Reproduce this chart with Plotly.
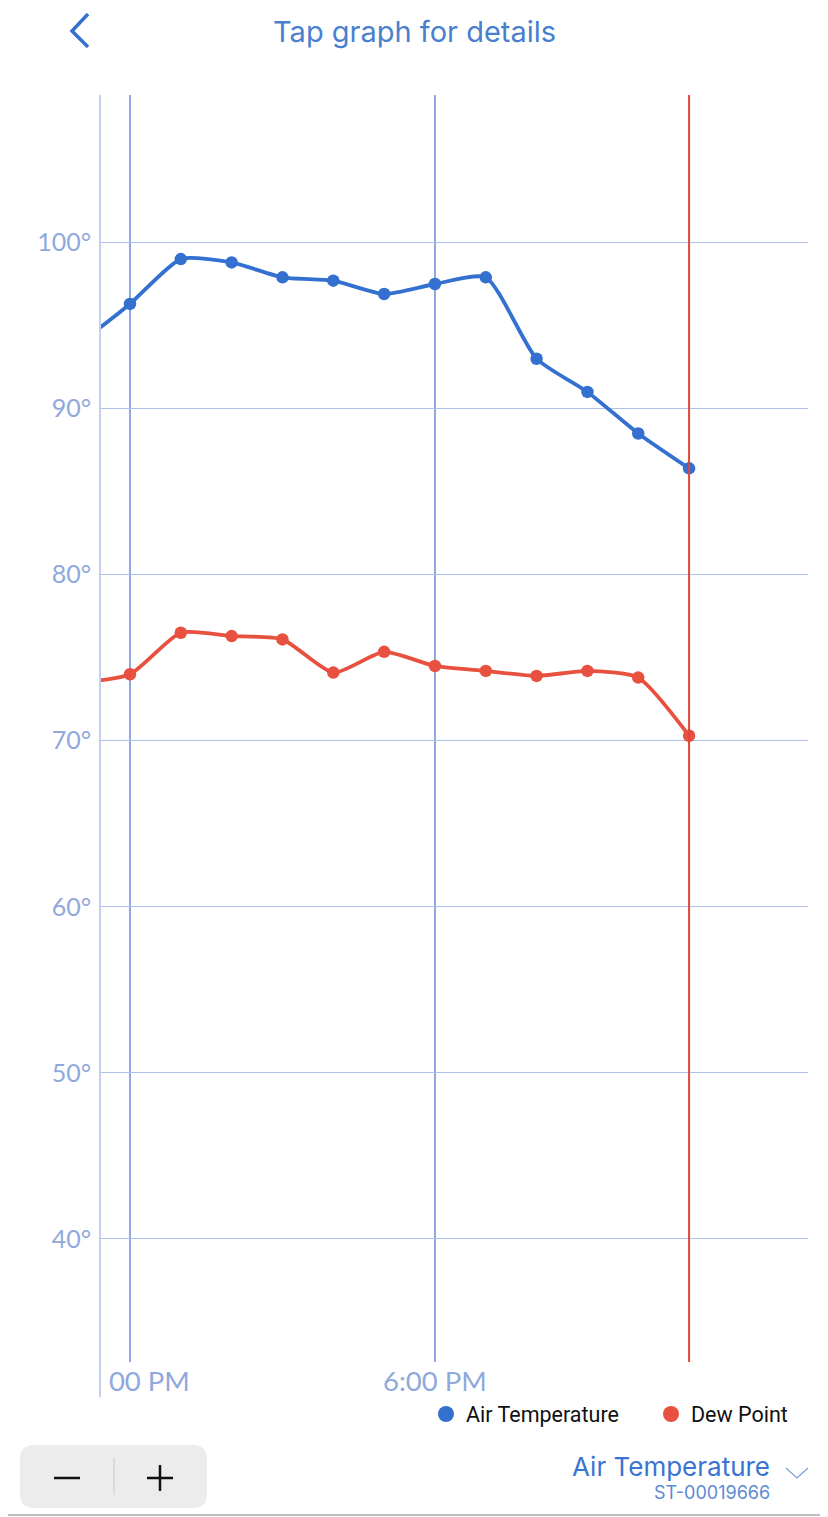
import plotly.graph_objects as go

# ---- data (hours of day, 24h clock) ----
hours = [11, 12, 13, 14, 15, 16, 17, 18, 19, 20, 21, 22, 23]
air_temp = [93.9, 96.3, 99.0, 98.8, 97.9, 97.7, 96.9, 97.5, 97.9, 93.0, 91.0, 88.5, 86.4]
dew_point = [73.5, 74.0, 76.5, 76.3, 76.1, 74.1, 75.35, 74.5, 74.2, 73.9, 74.2, 73.8, 70.3]
x_tick_vals = [12, 18]
x_tick_text = ["12:00 PM", "6:00 PM"]
now_hour = hours[-1]
x_range = [11.41, 25.34]
y_range = [32.59, 108.88]

BLUE = "#3470d0"
RED = "#e8503f"
GRID = "#aec2ec"
VGRID = "#8eaae2"
LABEL = "#8fa9dd"
LATO = "Lato, 'Open Sans', sans-serif"
INTER = "Inter, 'Open Sans', sans-serif"

# page body has an 8px margin; figure is placed at (8, 8) on screen
OFF = 8
W, H = 820, 1509
ML, MR, MT, MB = 92, 20, 87, 155
PW, PH = W - ML - MR, H - MT - MB


def px(x):  # screen x -> paper
    return (x - OFF - ML) / PW


def py(y):  # screen y -> paper
    return (H - MB - (y - OFF)) / PH


fig = go.Figure()
fig.add_trace(go.Scatter(
    x=hours, y=air_temp, mode="lines+markers", name="Air Temperature",
    line=dict(color=BLUE, width=3.8, shape="spline", smoothing=0.6),
    marker=dict(color=BLUE, size=12.5), showlegend=False))
fig.add_trace(go.Scatter(
    x=hours, y=dew_point, mode="lines+markers", name="Dew Point",
    line=dict(color=RED, width=3.8, shape="spline", smoothing=0.6),
    marker=dict(color=RED, size=12.5), showlegend=False))
# legend entries (dots only)
fig.add_trace(go.Scatter(x=[None], y=[None], mode="markers", name="Air Temperature",
                         marker=dict(color=BLUE, size=16)))
fig.add_trace(go.Scatter(x=[None], y=[None], mode="markers", name="Dew Point",
                         marker=dict(color=RED, size=16)))

shapes = []
# current time marker
shapes.append(dict(type="line", xref="x", yref="paper", x0=now_hour, x1=now_hour,
                   y0=0, y1=1, line=dict(color="#e0473a", width=2), layer="above"))
# mask for clipped first time label
shapes.append(dict(type="rect", xref="paper", yref="paper", x0=px(0), x1=px(108.5),
                   y0=py(1410), y1=py(1363), fillcolor="white", line=dict(width=0), layer="above"))
# left axis line
shapes.append(dict(type="line", xref="paper", yref="paper", x0=0, x1=0, y0=py(1397), y1=1,
                   line=dict(color="#c3d0ee", width=2), layer="above"))
# back chevron
shapes.append(dict(type="path", xref="paper", yref="paper",
                   path=f"M {px(88)} {py(14)} L {px(72)} {py(31)} L {px(88)} {py(47)}",
                   line=dict(color=BLUE, width=3.5)))
# zoom control box
x0b, x1b, y0b, y1b, r = 20, 207, 1445, 1508, 14
path = (f"M {px(x0b + r)} {py(y0b)} L {px(x1b - r)} {py(y0b)} "
        f"Q {px(x1b)} {py(y0b)} {px(x1b)} {py(y0b + r)} L {px(x1b)} {py(y1b - r)} "
        f"Q {px(x1b)} {py(y1b)} {px(x1b - r)} {py(y1b)} L {px(x0b + r)} {py(y1b)} "
        f"Q {px(x0b)} {py(y1b)} {px(x0b)} {py(y1b - r)} L {px(x0b)} {py(y0b + r)} "
        f"Q {px(x0b)} {py(y0b)} {px(x0b + r)} {py(y0b)} Z")
shapes.append(dict(type="path", xref="paper", yref="paper", path=path,
                   fillcolor="#ececec", line=dict(width=0)))
shapes.append(dict(type="line", xref="paper", yref="paper", x0=px(114), x1=px(114),
                   y0=py(1458), y1=py(1495), line=dict(color="#d6d6d6", width=1.5)))
# minus / plus glyphs
shapes.append(dict(type="line", xref="paper", yref="paper", x0=px(54), x1=px(80),
                   y0=py(1478), y1=py(1478), line=dict(color="#111111", width=2.5)))
shapes.append(dict(type="line", xref="paper", yref="paper", x0=px(147), x1=px(173),
                   y0=py(1478), y1=py(1478), line=dict(color="#111111", width=2.5)))
shapes.append(dict(type="line", xref="paper", yref="paper", x0=px(160), x1=px(160),
                   y0=py(1465), y1=py(1491), line=dict(color="#111111", width=2.5)))
# dropdown chevron
shapes.append(dict(type="path", xref="paper", yref="paper",
                   path=f"M {px(786)} {py(1468)} L {px(797)} {py(1478)} L {px(808)} {py(1468)}",
                   line=dict(color="#7f9fdc", width=1.2)))
# bottom separator
shapes.append(dict(type="line", xref="paper", yref="paper", x0=px(0), x1=px(828),
                   y0=py(1515), y1=py(1515), line=dict(color="#bdbdbd", width=2)))

annotations = [
    dict(text="Tap graph for details", xref="paper", yref="paper", x=px(414), y=py(31),
         showarrow=False, font=dict(family=INTER, size=29, color="#4a7fd0"),
         xanchor="center", yanchor="middle"),
    dict(text="Air Temperature", xref="paper", yref="paper", x=px(772), y=py(1467),
         showarrow=False, font=dict(family=INTER, size=26, color="#3a74d2"),
         xanchor="right", yanchor="middle"),
    dict(text="ST-00019666", xref="paper", yref="paper", x=px(772), y=py(1492),
         showarrow=False, font=dict(family=INTER, size=18, color="#5d8ad6"),
         xanchor="right", yanchor="middle"),
]

fig.update_layout(
    width=W, height=H,
    margin=dict(l=ML, r=MR, t=MT, b=MB, pad=0, autoexpand=False),
    plot_bgcolor="white", paper_bgcolor="white",
    font=dict(family=LATO),
    shapes=shapes, annotations=annotations,
    legend=dict(orientation="h", x=px(426), xanchor="left", y=py(1414), yanchor="middle",
                font=dict(family="Roboto", size=21.5, color="#111111"),
                entrywidth=180, bgcolor="rgba(0,0,0,0)", borderwidth=0),
    xaxis=dict(range=x_range, tickvals=x_tick_vals, ticktext=x_tick_text,
               showgrid=True, gridcolor=VGRID, gridwidth=1.5, zeroline=False,
               showline=False, ticks="", tickfont=dict(family=LATO, size=27.5, color=LABEL),
               fixedrange=True),
    yaxis=dict(range=y_range, dtick=10, tick0=0, ticksuffix="°",
               showgrid=True, gridcolor=GRID, gridwidth=1.2, zeroline=False,
               showline=False, ticks="", ticklabelstandoff=8,
               tickfont=dict(family=LATO, size=25, color=LABEL), fixedrange=True),
)

fig.write_html("out.html", config={"displayModeBar": False})
